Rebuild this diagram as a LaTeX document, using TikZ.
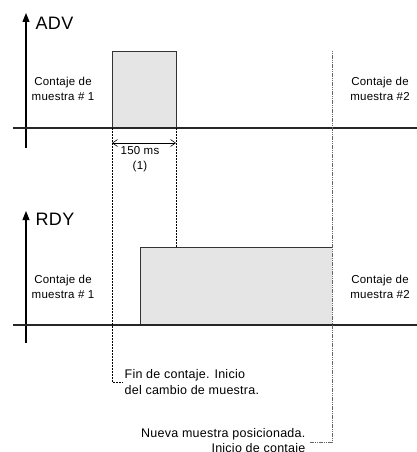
\documentclass[tikz,border=0pt]{standalone}
\usepackage{fontspec}
\setmainfont{Liberation Sans}[LetterSpace=2]
\usetikzlibrary{arrows.meta, positioning}

\begin{document}
\begin{tikzpicture}[x=1pt, y=-1pt,
                every node/.style={inner sep=0.5mm},
                axis/.style={line width=1.1pt, -{Triangle[length=9pt, width=7pt]}},
                base/.style={line width=1.3pt, black!85},
                pulse/.style={fill=black!10},
                edge/.style={draw=black!80, line width=0.8pt},
                bl/.style={black, dash pattern=on 2pt off 1pt, line width=0.6pt},
                gy/.style={black!60, dash pattern=on 1.2pt off 0.6pt, line width=1pt},
                dim/.style={{Straight Barb[length=5pt, width=7pt]}-{Straight Barb[length=5pt, width=7pt]}, line width=0.6pt},
                sig/.style={font=\fontsize{18}{20}\selectfont, anchor=west},
                cnt/.style={align=center, font=\fontsize{11.5}{14.5}\selectfont},
                note/.style={font=\fontsize{12.5}{15.5}\selectfont}]

    \useasboundingbox (0,0) rectangle (417,452); % same size as the reference

    % ADV
    \coordinate (advO) at (26,148);
    \coordinate (advT) at (26,13);
    \draw[axis] (advO) -- (advT);
    \node[sig] (adv) at (34,23) {ADV};
    \fill[pulse] (112,128) rectangle (176,51);
    \draw[edge] (112,128) |- (176,51) -- (176,128);
    \coordinate (advL) at (13,128);
    \coordinate (advR) at (417,128);
    \draw[base] (advL) -- (advR);
    \node[cnt] (c1) at (63,89)  {Contaje de\\muestra \# 1};
    \node[cnt] (c2) at (380,89) {Contaje de\\muestra \#2};

    % RDY
    \coordinate (rdyO) at (26,343);
    \coordinate (rdyT) at (26,211);
    \draw[axis] (rdyO) -- (rdyT);
    \node[sig] (rdy) at (34,219) {RDY};
    \fill[pulse] (140,325) rectangle (332,247);
    \draw[edge] (140,325) |- (332,247);
    \coordinate (rdyL) at (13,325);
    \coordinate (rdyR) at (417,325);
    \draw[base] (rdyL) -- (rdyR);
    \node[cnt] (c3) at (63,287)  {Contaje de\\muestra \# 1};
    \node[cnt] (c4) at (380,287) {Contaje de\\muestra \#2};

    % 150 ms
    \coordinate (d1) at (112,143);
    \coordinate (d2) at (176,143);
    \draw[dim] (d1) -- (d2);
    \node[cnt] (dur) at (140,159) {150 ms\\(1)};

    % notes
    \node[note, align=left, anchor=west] (fin) at (123,382) {Fin de contaje. Inicio\\del cambio de muestra.};
    \node[note, align=right, anchor=east] (nueva) at (307,442) {Nueva muestra posicionada.\\Inicio de contaje};

    \coordinate (a1) at (112,128);
    \coordinate (a2) at (176,128);
    \coordinate (r2) at (176,247);
    \coordinate (n1) at (332,51);
    \draw[bl] (a1) |- (fin.west);
    \draw[bl] (a2) -- (r2);
    \draw[gy, shorten >=3pt] (n1) |- (nueva.east);

    \end{tikzpicture}
\end{document}
